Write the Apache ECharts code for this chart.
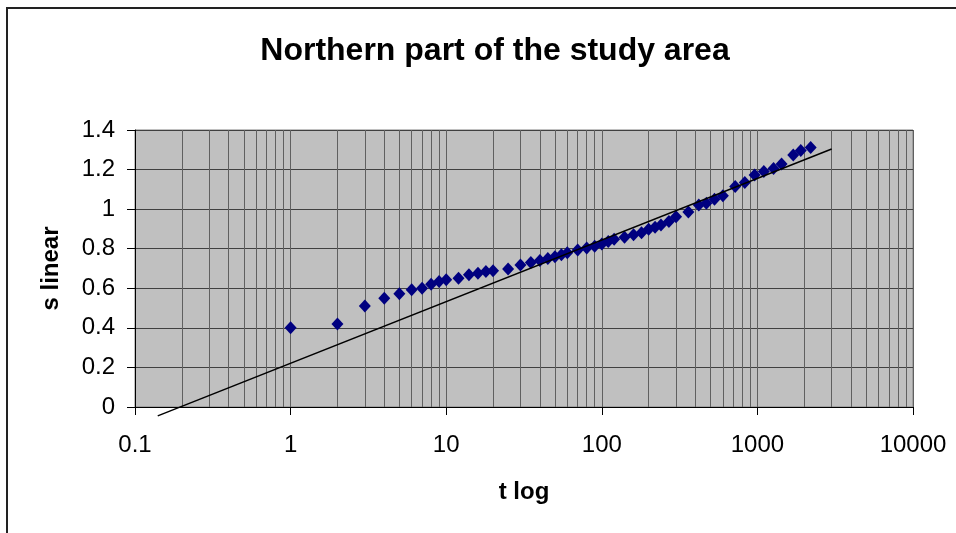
<!DOCTYPE html>
<html>
<head>
<meta charset="utf-8">
<script src="https://cdn.jsdelivr.net/npm/echarts@6/dist/echarts.min.js"></script>
<style>html,body{margin:0;padding:0;background:#fff}#c{width:956px;height:533px}</style>
</head>
<body>
<div id="c"></div>
<script>
var titleText = 'Northern part of the study area';
var xName = 't log';
var yName = 's linear';
var tValues = [1,2,3,4,5,6,7,8,9,10,12,14,16,18,20,25,30,35,40,45,50,55,60,70,80,90,100,110,120,140,160,180,200,220,240,270,300,360,420,470,530,600,720,830,960,1100,1270,1430,1700,1900,2200];
var sValues = [0.40,0.42,0.51,0.55,0.573,0.592,0.60,0.62,0.634,0.643,0.651,0.668,0.676,0.685,0.688,0.697,0.718,0.73,0.74,0.75,0.76,0.769,0.78,0.794,0.803,0.812,0.824,0.836,0.848,0.858,0.87,0.881,0.899,0.909,0.92,0.937,0.962,0.986,1.021,1.03,1.05,1.068,1.114,1.135,1.173,1.19,1.206,1.228,1.274,1.297,1.311];
var trendT = [0.14, 3000];
var trendS = [-0.045, 1.304];
var decades = [0.1, 1, 10, 100, 1000];
var minorMult = [2,3,4,5,6,7,8,9];

var pts = tValues.map(function(t,i){return [t, sValues[i]];});
var trend = trendT.map(function(t,i){return [t, trendS[i]];});
var minorLines = [];
decades.forEach(function(d){ minorMult.forEach(function(m){ minorLines.push({xAxis: +(d*m).toPrecision(6)}); }); });

var FF = 'Liberation Sans, Arial, sans-serif';
var chart = echarts.init(document.getElementById('c'), null, {renderer:'canvas'});
chart.setOption({
  animation: false,
  backgroundColor: '#ffffff',
  textStyle: {fontFamily: FF},
  title: {
    text: titleText, left: 490, top: 30, textAlign: 'center',
    textStyle: {fontSize: 32, fontWeight: 'bold', color: '#000', fontFamily: FF}
  },
  graphic: [{
    type: 'rect', silent: true, z: 100,
    shape: {x: 7, y: 8, width: 960, height: 540},
    style: {fill: 'none', stroke: '#222', lineWidth: 2}
  }],
  grid: {left: 135, right: 43, top: 130, bottom: 126, show: true, backgroundColor: '#c0c0c0', borderColor: '#808080', borderWidth: 1},
  xAxis: {
    type: 'log', logBase: 10, min: 0.1, max: 10000,
    name: xName, nameLocation: 'middle', nameGap: 73,
    nameTextStyle: {fontSize: 24, fontWeight: 'bold', color: '#000', fontFamily: FF},
    axisLine: {show: true, onZero: false, lineStyle: {color: '#000', width: 1}},
    axisTick: {show: true, inside: false, length: 8, lineStyle: {color: '#000'}},
    axisLabel: {fontSize: 24, color: '#000', margin: 26, fontFamily: FF,
      formatter: function(v){ return String(+Number(v).toPrecision(6)); }},
    splitLine: {show: true, lineStyle: {color: '#606060', width: 1}}
  },
  yAxis: {
    type: 'value', min: 0, max: 1.4, interval: 0.2,
    name: yName, nameLocation: 'middle', nameGap: 72, nameRotate: 90,
    nameTextStyle: {fontSize: 24, fontWeight: 'bold', color: '#000', fontFamily: FF},
    axisLine: {show: true, lineStyle: {color: '#000', width: 1}},
    axisTick: {show: true, inside: false, length: 8, lineStyle: {color: '#000'}},
    axisLabel: {fontSize: 24, color: '#000', margin: 20, fontFamily: FF,
      formatter: function(v){ return String(+Number(v).toFixed(2)); }},
    splitLine: {show: true, lineStyle: {color: '#404040', width: 1}}
  },
  series: [{
    type: 'scatter', data: pts, symbol: 'diamond', symbolSize: [12, 13],
    itemStyle: {color: '#000080', opacity: 1}, z: 3,
    markLine: {
      silent: true, symbol: 'none', animation: false, z: 1,
      label: {show: false},
      lineStyle: {color: '#606060', width: 1, type: 'solid'},
      emphasis: {disabled: true},
      data: minorLines
    }
  }, {
    type: 'line', data: trend, clip: false, showSymbol: false, symbol: 'none',
    lineStyle: {color: '#000', width: 1.5}, z: 4
  }]
});
</script>
</body>
</html>
